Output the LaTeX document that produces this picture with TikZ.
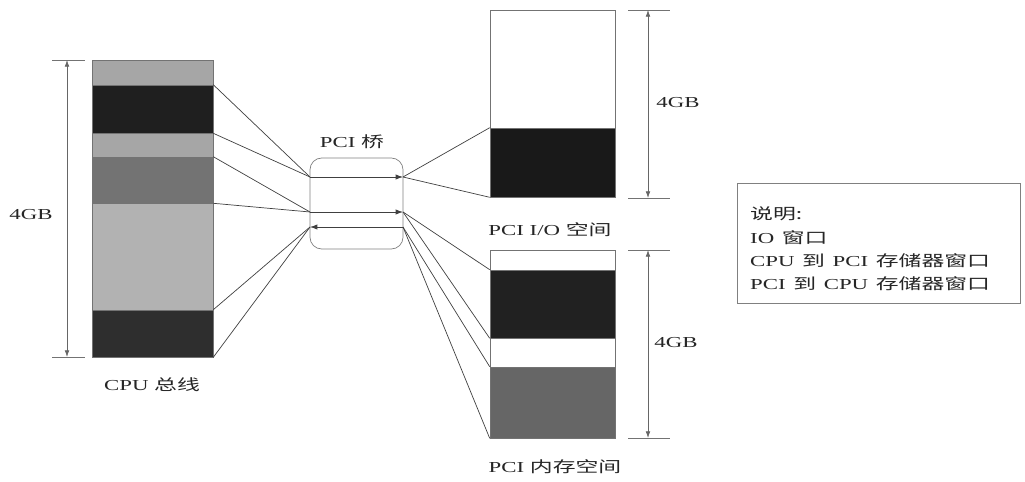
\documentclass[tikz,border=0pt]{standalone}
\usepackage{fontspec}
\setmainfont{Liberation Serif}
\newfontfamily\cjk{Noto Sans CJK SC}
\usepackage{graphicx}
\usepackage{xcolor}
\usetikzlibrary{arrows.meta,positioning,calc}
\newcommand{\wide}[1]{\scalebox{1.5}[1]{#1}}

\begin{document}
\begin{tikzpicture}[
x=0.03cm,
y=-0.03cm,
every node/.style={font=\fontsize{13}{20}\selectfont},
band/.style={rectangle,draw=black!55,line width=0.5pt,inner sep=0pt,minimum width=3.63cm},
pband/.style={rectangle,draw=black!55,line width=0.5pt,inner sep=0pt,minimum width=3.75cm},
bridge/.style={rectangle,rounded corners=10pt,draw=black!50,line width=0.6pt,minimum width=2.79cm,minimum height=2.73cm},
conn/.style={draw=black!75,line width=0.6pt},
arr/.style={-{Latex[length=2.2mm,width=1.6mm]},draw=black!75,line width=0.7pt},
dim/.style={{Latex[length=2mm,width=1.4mm]}-{Latex[length=2mm,width=1.4mm]},draw=black!60,line width=0.6pt},
tick/.style={draw=black!55,line width=0.6pt},
lbl/.style={inner sep=1pt,text=black!85},
legend/.style={rectangle,draw=black!50,line width=0.6pt,minimum width=8.49cm,minimum height=3.6cm},
legtext/.style={align=left,text width=7.7cm,inner sep=0pt,text=black!85}
]
\useasboundingbox (0,0) rectangle (1025,482);

% CPU bus
\node[band,fill=black!35,minimum height=0.75cm] (cpua) at (152.5,72.5) {};
\node[band,fill=black!88,minimum height=1.44cm] (cpub) at (152.5,109) {};
\node[band,fill=black!35,minimum height=0.72cm] (cpuc) at (152.5,145) {};
\node[band,fill=black!55,minimum height=1.38cm] (cpud) at (152.5,180) {};
\node[band,fill=black!30,minimum height=3.21cm] (cpue) at (152.5,256.5) {};
\node[band,fill=black!82,minimum height=1.41cm] (cpuf) at (152.5,333.5) {};
\node[lbl] (cpulbl) at (152,385) {\wide{CPU {\cjk 总线}}};

% PCI I/O space
\node[pband,fill=white,minimum height=3.54cm] (ioa) at (552.5,69) {};
\node[pband,fill=black!90,minimum height=2.07cm] (iob) at (552.5,162.5) {};
\node[lbl] (iolbl) at (550,230) {\wide{PCI I/O {\cjk 空间}}};

% PCI memory space
\node[pband,fill=white,minimum height=0.6cm] (mema) at (552.5,260) {};
\node[pband,fill=black!87,minimum height=2.04cm] (memb) at (552.5,304) {};
\node[pband,fill=white,minimum height=0.87cm] (memc) at (552.5,352.5) {};
\node[pband,fill=black!60,minimum height=2.13cm] (memd) at (552.5,402.5) {};
\node[lbl] (memlbl) at (555,467) {\wide{PCI {\cjk 内存空间}}};

% bridge
\node[bridge] (pcib) at (356.5,203.5) {};
\node[lbl] (pcilbl) at (352,142) {\wide{PCI {\cjk 桥}}};
\coordinate (bwa) at (310,177);
\coordinate (bea) at (403,177);
\coordinate (bwb) at (310,212);
\coordinate (beb) at (403,212);
\coordinate (bwc) at (310,227);
\coordinate (bec) at (403,227);
\draw[arr] (bwa) -- (bea);
\draw[arr] (bwb) -- (beb);
\draw[arr] (bec) -- (bwc);

% windows
\draw[conn] (cpub.north east) -- (bwa);
\draw[conn] (cpub.south east) -- (bwa);
\draw[conn] (cpud.north east) -- (bwb);
\draw[conn] (cpud.south east) -- (bwb);
\draw[conn] (cpuf.north east) -- (bwc);
\draw[conn] (cpuf.south east) -- (bwc);
\draw[conn] (bea) -- (iob.north west);
\draw[conn] (bea) -- (iob.south west);
\draw[conn] (beb) -- (memb.north west);
\draw[conn] (beb) -- (memb.south west);
\draw[conn] (bec) -- (memd.north west);
\draw[conn] (bec) -- (memd.south west);

% sizes
\coordinate (cputop) at (67,60);
\coordinate (cpubot) at (67,357);
\draw[tick] (52,60) -- (85,60);
\draw[tick] (52,357) -- (85,357);
\draw[dim] (cputop) -- (cpubot);
\node[lbl] (cpusize) at (31,215) {\wide{4GB}};

\coordinate (iotop) at (648,10);
\coordinate (iobot) at (648,198);
\draw[tick] (628,10) -- (670,10);
\draw[tick] (628,198) -- (670,198);
\draw[dim] (iotop) -- (iobot);
\node[lbl] (iosize) at (678,103) {\wide{4GB}};

\coordinate (memtop) at (648,250);
\coordinate (membot) at (648,438);
\draw[tick] (628,250) -- (670,250);
\draw[tick] (628,438) -- (670,438);
\draw[dim] (memtop) -- (membot);
\node[lbl] (memsize) at (676,343) {\wide{4GB}};

% legend
\node[legend] (note) at (878.5,243) {};
\node[legtext] (notetext) at (878.5,249) {\wide{{\cjk 说明:}}\\\wide{IO {\cjk 窗口}}\\\wide{CPU {\cjk 到} PCI {\cjk 存储器窗口}}\\\wide{PCI {\cjk 到} CPU {\cjk 存储器窗口}}};
\end{tikzpicture}
\end{document}
